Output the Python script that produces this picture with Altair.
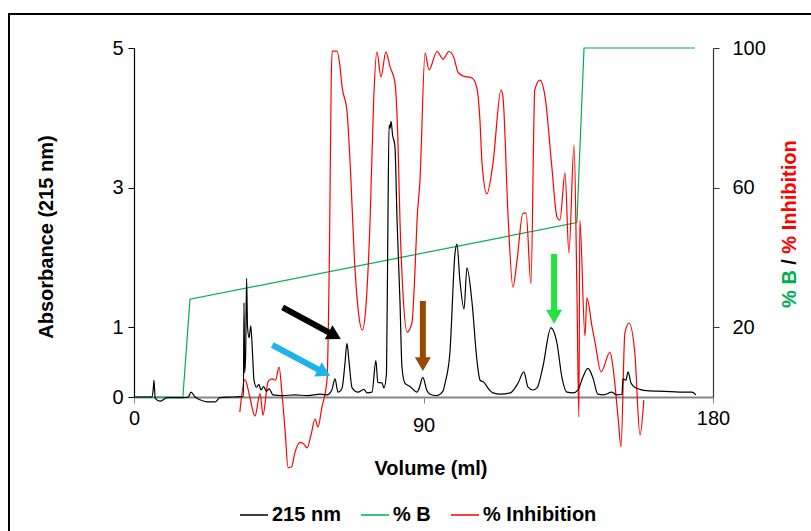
import altair as alt
import pandas as pd

# ---- Absorbance at 215 nm (left axis) ----
abs_ml = [0, 5.5, 6.0, 6.2, 6.6, 8.1, 10.3, 15.2, 16.9, 17.7, 19.0, 20.5, 22.7, 25.2, 26.7, 30.8,
          34.0, 34.2, 34.4, 34.7, 35.0, 35.3, 35.8, 36.3, 36.9, 37.3, 38.1, 38.8, 39.5, 40.3, 41.2,
          42.0, 43.2, 46.0, 50.0, 54.0, 58.0, 60.0, 61.5, 62.5, 63.4, 64.7, 65.6, 66.2, 66.8, 67.8,
          69.6, 71.5, 72.4, 74.0, 75.2, 75.8, 77.1, 77.7, 78.5, 78.9, 79.3, 79.6, 79.9, 80.4, 81.1,
          81.8, 82.7, 83.3, 84.2, 85.8, 88.0, 88.6, 89.8, 91.0, 92.0, 94.0, 96.0, 96.7, 98.2, 99.8,
          100.4, 101.3, 102.6, 103.5, 105.1, 106.6, 107.6, 108.8, 110.0, 111.6, 114.0, 117.0, 119.4,
          121.2, 122.5, 124.0, 125.3, 127.1, 129.6, 131.5, 133.0, 134.6, 136.5, 138.0, 139.6, 141.1,
          142.7, 144.2, 146.0, 148.6, 150.0, 151.7, 152.0, 152.9, 153.6, 154.5, 155.7, 157.3, 159.5,
          165.0, 169.7, 173.5, 174.7]
abs_val = [0, 0, 0.12, 0.24, -0.02, -0.06, -0.01, -0.01, 0.0, 0.07, 0.0, -0.04, -0.07, -0.07, -0.01, 0.0,
           0.01, 1.35, 0.35, 0.6, 1.7, 1.0, 0.85, 1.02, 0.57, 0.24, 0.14, 0.18, 0.1, 0.15, 0.08,
           0.12, 0.03, 0.02, 0.03, 0.02, 0.04, 0.03, 0.1, 0.26, 0.07, 0.13, 0.49, 0.77, 0.53, 0.13,
           0.07, 0.11, 0.06, 0.07, 0.52, 0.21, 0.2, 0.13, 0.34, 2.3, 3.9, 3.85, 3.95, 3.75, 3.6,
           2.5, 1.35, 0.43, 0.2, 0.15, 0.07, 0.12, 0.28, 0.1, 0.04, 0.02, 0.08, 0.2, 0.63, 2.06,
           2.19, 1.68, 1.26, 1.85, 1.35, 0.53, 0.24, 0.21, 0.13, 0.06, 0.04, 0.06, 0.2,
           0.36, 0.14, 0.1, 0.13, 0.43, 0.99, 0.77, 0.29, 0.07, 0.06, 0.1, 0.29, 0.41,
           0.27, 0.04, 0.03, 0.07, 0.03, 0.04, 0.26, 0.24, 0.36, 0.2, 0.14, 0.11, 0.09,
           0.08, 0.07, 0.07, 0.03]

# ---- Gradient %B (right axis) ----
pctb_ml = [0, 15.2, 17.4, 137.7, 139.9, 174.4]
pctb_val = [0, 0, 28, 50, 100, 100]

# ---- % Inhibition (right axis) ----
inh_ml = [32.9, 34.5, 36.0, 37.6, 39.2, 40.1, 41.7, 42.9, 44.0, 45.1, 46.0, 47.0, 47.9, 49.0, 50.0,
          51.6, 52.8, 53.8, 55.0, 56.3, 57.2, 58.4, 60.0, 60.8, 61.3, 61.6, 63.1, 64.0, 64.7, 66.2,
          67.3, 68.5, 69.8, 71.0, 72.1, 73.4, 74.5, 75.5, 76.8, 78.3, 79.6, 81.1, 82.0, 82.7, 83.6,
          84.9, 86.4, 87.3, 88.0, 88.9, 90.5, 91.7, 94.2, 96.1, 97.9, 99.5, 100.7, 102.3, 105.1,
          106.6, 107.5, 108.2, 109.7, 111.6, 114.1, 114.7, 116.3, 117.8, 119.1, 120.9, 121.9, 123.4,
          124.6, 126.2, 127.8, 129.9, 131.5, 132.4, 134.0, 135.2, 136.8, 137.7, 138.3, 138.6, 140.2,
          140.8, 142.4, 143.3, 145.2, 148.0, 148.9, 150.5, 151.4, 152.6, 153.9, 155.7, 157.3, 158.5]
inh_val = [-4.3, 5.0, 0, -5.5, 1.0, -5.2, 4.5, 5.2, 4.8, 8.6, 1.0, -10, -20.3, -20, -16,
           -13, -13.5, -14.6, -11, -6.3, -8.6, -3, 4.9, 45, 90, 99.1, 99.1, 95, 88.8, 82,
           65, 40, 24, 19.2, 26, 50.7, 85, 98.9, 91.7, 98.9, 94.6, 90.3, 75, 50, 30,
           18.6, 21.2, 35, 50.7, 62, 98.6, 93.7, 99, 96.8, 99, 97.1, 93.1, 92, 91.4,
           88.5, 80, 67, 58.2, 67, 88, 86, 51.6, 31.5, 39.3, 52.7, 52.7, 32.4,
           88, 90.8, 86, 65.9, 51.6, 50.7, 64.2, 41.3, 72.2, 30, -5.7, 50.7, 17.5,
           28.4, 20.1, 15.8, 7.2, 12.9, 8.6, -6, -14.3, 18.3, 21.2, 12.6, -10.9, -0.9]

# ---- Fraction arrows (tail -> head, in ml / absorbance units) ----
arrow_x = [46.2, 43.0, 89.8, 130.6]
arrow_y = [1.285, 0.745, 1.375, 2.05]
arrow_x2 = [62.4, 59.1, 89.8, 130.6]
arrow_y2 = [0.88, 0.35, 0.47, 1.15]
arrow_angle = [28.6, 27.8, 0, 0]
arrow_shape = ["triangle-right", "triangle-right", "triangle-down", "triangle-down"]
arrow_color = ["#000000", "#1EB4EB", "#964B00", "#22E340"]

series_names = ["215 nm", "% B", "% Inhibition"]
series_colors = ["#000000", "#00B050", "#FF0000"]

FONT = "Liberation Sans"
W, H = 579, 349

df_abs = pd.DataFrame({"ml": abs_ml, "value": abs_val, "series": "215 nm"})
df_b = pd.DataFrame({"ml": pctb_ml, "value": pctb_val, "series": "% B"})
df_inh = pd.DataFrame({"ml": inh_ml, "value": inh_val, "series": "% Inhibition"})
df_arrows = pd.DataFrame({"ml": arrow_x, "value": arrow_y, "ml2": arrow_x2, "value2": arrow_y2,
                          "angle": arrow_angle, "shape": arrow_shape, "color": arrow_color})

color = alt.Color(
    "series:N",
    scale=alt.Scale(domain=series_names, range=series_colors),
    legend=alt.Legend(
        orient="none", legendX=105, legendY=452, direction="horizontal",
        title=None, symbolType="stroke", symbolSize=784, symbolStrokeWidth=1.5,
        labelFont=FONT, labelFontSize=20, labelFontWeight="bold", labelColor="#000",
        columnPadding=17, labelOffset=3,
    ),
)

x_axis = alt.Axis(
    values=[0, 90, 180], title=None, grid=False, labelFont=FONT, labelFontSize=20,
    labelColor="#000", labelFlush=False, labelAngle=0,
    labelPadding={"condition": {"test": "datum.value == 90", "value": 12}, "value": 5},
    domainColor="#868686", domainWidth=2, tickColor="#868686", tickSize=6,
)
x_scale = alt.Scale(domain=[0, 180], nice=False)

left_axis = alt.Axis(orient="left", values=[0, 1, 3, 5], title=None, grid=False,
                     labelFont=FONT, labelFontSize=20, labelColor="#000", labelPadding=5,
                     domainColor="#000", domainWidth=1.2, tickColor="#000", tickSize=6)
right_axis = alt.Axis(orient="right", values=[20, 60, 100], title=None, grid=False,
                      labelFont=FONT, labelFontSize=20, labelColor="#000", labelPadding=13,
                      domainColor="#333", domainWidth=1.2, tickColor="#333", tickSize=6)
left_scale = alt.Scale(domain=[0, 5], nice=False)
right_scale = alt.Scale(domain=[0, 100], nice=False)

# %B gradient: straight segments
grad_line = alt.Chart(df_b).mark_line(strokeWidth=1.2, clip=False).encode(
    x=alt.X("ml:Q", scale=x_scale, axis=x_axis),
    y=alt.Y("value:Q", scale=right_scale, axis=right_axis),
    color=color,
)
# inhibition profile: smoothed
inh_line = alt.Chart(df_inh).mark_line(strokeWidth=1.2, interpolate="monotone", clip=False).encode(
    x=alt.X("ml:Q", scale=x_scale, axis=x_axis),
    y=alt.Y("value:Q", scale=right_scale, axis=right_axis),
    color=color,
)

black_line = alt.Chart(df_abs).mark_line(strokeWidth=1.2, interpolate="monotone", clip=False).encode(
    x=alt.X("ml:Q", scale=x_scale, axis=x_axis),
    y=alt.Y("value:Q", scale=left_scale, axis=left_axis),
    color=color,
)

shafts = alt.Chart(df_arrows).mark_rule(strokeWidth=6, strokeCap="butt").encode(
    x=alt.X("ml:Q", scale=x_scale, axis=x_axis),
    y=alt.Y("value:Q", scale=left_scale, axis=left_axis),
    x2="ml2:Q", y2="value2:Q",
    color=alt.Color("color:N", scale=None),
)
heads = alt.Chart(df_arrows).mark_point(filled=True, opacity=1, size=256).encode(
    x=alt.X("ml2:Q", scale=x_scale, axis=x_axis),
    y=alt.Y("value2:Q", scale=left_scale, axis=left_axis),
    shape=alt.Shape("shape:N", scale=None),
    angle=alt.Angle("angle:Q", scale=None),
    color=alt.Color("color:N", scale=None),
)

one = pd.DataFrame({"k": [0]})
def label(txt, x, y, col="#000", angle=0):
    return alt.Chart(one).mark_text(
        text=txt, font=FONT, fontSize=20, fontWeight="bold", color=col, angle=angle,
        align="center", baseline="middle",
    ).encode(x=alt.value(x), y=alt.value(y))

titles = alt.layer(
    label("Absorbance (215 nm)", -87, 189, angle=270),
    label("Volume  (ml)", 297, 421),
    label("% B", 656, 241, "#00B050", 270),
    label("/", 656, 214, "#000", 270),
    label("% Inhibition", 656, 149, "#FF0000", 270),
)

frame = alt.layer(
    alt.Chart(one).mark_rule(color="#000", strokeWidth=2).encode(
        x=alt.value(-125), x2=alt.value(-125), y=alt.value(-34), y2=alt.value(520)),
    alt.Chart(one).mark_rule(color="#000", strokeWidth=2).encode(
        x=alt.value(-126), x2=alt.value(700), y=alt.value(-34), y2=alt.value(-34)),
)

chart = alt.layer(
    alt.layer(grad_line, inh_line),
    alt.layer(black_line, shafts, heads),
    titles,
    frame,
).resolve_scale(y="independent").properties(
    width=W, height=H,
    autosize=alt.AutoSizeParams(type="none"),
    padding={"left": 134, "top": 48, "right": 98, "bottom": 134},
    background="#ffffff",
).configure_view(stroke=None)

chart.save("out.html", embed_options={"renderer": "svg", "actions": False})
